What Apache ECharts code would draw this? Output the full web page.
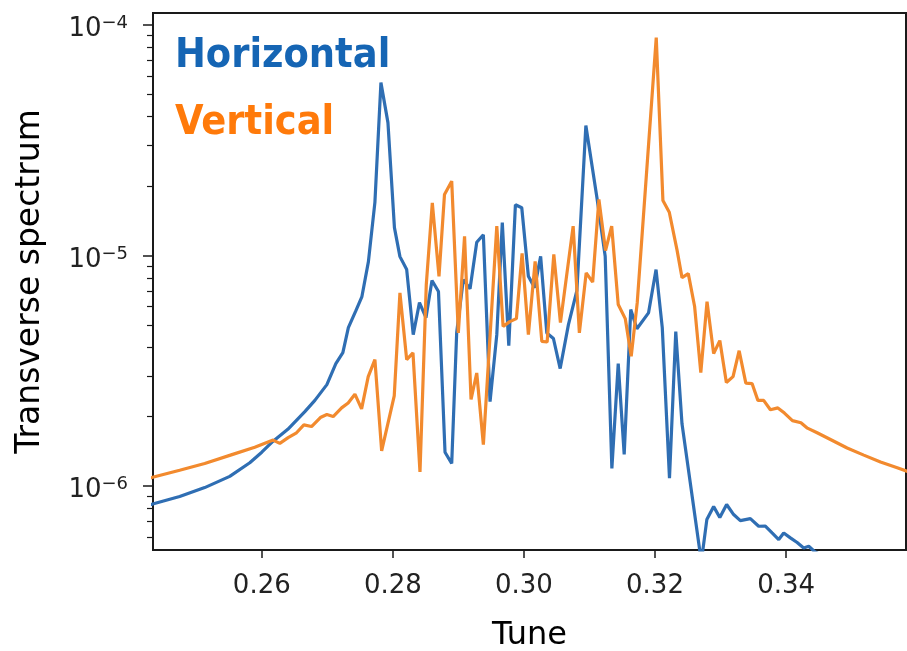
<!DOCTYPE html>
<html>
<head>
<meta charset="utf-8">
<script src="https://cdn.jsdelivr.net/npm/echarts@6/dist/echarts.min.js"></script>
<style>
html,body{margin:0;padding:0;background:#fff;overflow:hidden;}
#c{width:907px;height:651px;}
</style>
</head>
<body>
<div id="c"></div>
<script>
// Horizontal (blue) spectrum
const tuneH = [0.24213,0.24335,0.24747,0.25129,0.25511,0.25817,0.26000,0.26168,0.26397,0.26657,0.26810,0.26993,0.27130,0.27237,0.27321,0.27436,0.27528,0.27627,0.27726,0.27818,0.27925,0.28024,0.28108,0.28211,0.28311,0.28406,0.28505,0.28597,0.28696,0.28796,0.28898,0.28974,0.29075,0.29178,0.29280,0.29381,0.29483,0.29586,0.29670,0.29769,0.29870,0.29967,0.30068,0.30163,0.30255,0.30349,0.30450,0.30553,0.30679,0.30808,0.30945,0.31113,0.31240,0.31342,0.31439,0.31530,0.31630,0.31724,0.31901,0.32016,0.32111,0.32221,0.32317,0.32412,0.32707,0.32791,0.32895,0.32989,0.33093,0.33200,0.33302,0.33455,0.33582,0.33684,0.33787,0.33888,0.33964,0.34066,0.34169,0.34269,0.34346,0.34433,0.34601,0.34906,0.35288,0.35976];
const specH = [8.09e-7,8.35e-7,8.99e-7,9.83e-7,1.10e-6,1.26e-6,1.40e-6,1.56e-6,1.76e-6,2.10e-6,2.35e-6,2.75e-6,3.39e-6,3.79e-6,4.86e-6,5.76e-6,6.63e-6,9.40e-6,1.70e-5,5.62e-5,3.77e-5,1.32e-5,9.88e-6,8.68e-6,4.53e-6,6.24e-6,5.37e-6,7.78e-6,6.97e-6,1.40e-6,1.25e-6,4.63e-6,7.85e-6,7.17e-6,1.14e-5,1.23e-5,2.32e-6,4.53e-6,1.39e-5,4.06e-6,1.66e-5,1.61e-5,8.12e-6,7.25e-6,9.91e-6,4.61e-6,4.36e-6,3.23e-6,5.01e-6,7.04e-6,3.66e-5,1.79e-5,9.91e-6,1.19e-6,3.39e-6,1.37e-6,5.82e-6,4.81e-6,5.63e-6,8.68e-6,4.86e-6,1.08e-6,4.67e-6,1.86e-6,4.69e-7,7.14e-7,8.13e-7,7.29e-7,8.30e-7,7.51e-7,7.07e-7,7.21e-7,6.68e-7,6.69e-7,6.25e-7,5.85e-7,6.25e-7,5.95e-7,5.68e-7,5.38e-7,5.47e-7,5.19e-7,4.89e-7,4.51e-7,4.12e-7,3.55e-7];
// Vertical (orange) spectrum
const tuneV = [0.24213,0.24335,0.24747,0.25129,0.25557,0.25893,0.26173,0.26275,0.26402,0.26530,0.26642,0.26759,0.26894,0.26993,0.27089,0.27218,0.27318,0.27421,0.27523,0.27624,0.27726,0.27829,0.28021,0.28108,0.28211,0.28307,0.28414,0.28510,0.28602,0.28704,0.28788,0.28898,0.28999,0.29094,0.29193,0.29280,0.29381,0.29586,0.29682,0.29784,0.29885,0.29972,0.30068,0.30171,0.30273,0.30354,0.30456,0.30557,0.30751,0.30846,0.30950,0.31049,0.31144,0.31245,0.31339,0.31439,0.31546,0.31637,0.31729,0.32019,0.32121,0.32218,0.32335,0.32412,0.32508,0.32604,0.32699,0.32794,0.32895,0.32989,0.33089,0.33191,0.33284,0.33386,0.33481,0.33570,0.33658,0.33761,0.33875,0.33975,0.34097,0.34227,0.34326,0.34474,0.34677,0.34932,0.35186,0.35441,0.35696,0.35976];
const specV = [1.06e-6,1.09e-6,1.17e-6,1.25e-6,1.37e-6,1.47e-6,1.58e-6,1.53e-6,1.62e-6,1.70e-6,1.84e-6,1.81e-6,1.98e-6,2.04e-6,2.00e-6,2.18e-6,2.29e-6,2.50e-6,2.16e-6,2.98e-6,3.53e-6,1.42e-6,2.46e-6,6.88e-6,3.53e-6,3.78e-6,1.15e-6,7.47e-6,1.69e-5,8.12e-6,1.84e-5,2.10e-5,4.61e-6,1.21e-5,2.37e-6,3.09e-6,1.51e-6,1.34e-5,4.92e-6,5.16e-6,5.32e-6,1.02e-5,4.53e-6,9.43e-6,4.24e-6,4.21e-6,1.01e-5,5.11e-6,1.34e-5,4.61e-6,8.40e-6,7.66e-6,1.75e-5,1.05e-5,1.34e-5,6.12e-6,5.32e-6,3.65e-6,6.24e-6,8.81e-5,1.73e-5,1.54e-5,1.06e-5,8.01e-6,8.34e-6,6.02e-6,3.10e-6,6.30e-6,3.75e-6,4.27e-6,2.81e-6,2.98e-6,3.86e-6,2.79e-6,2.78e-6,2.35e-6,2.35e-6,2.14e-6,2.18e-6,2.07e-6,1.92e-6,1.88e-6,1.78e-6,1.70e-6,1.59e-6,1.46e-6,1.36e-6,1.27e-6,1.20e-6,1.12e-6];

const xTicks = [0.26, 0.28, 0.30, 0.32, 0.34];
const yMajorTicks = [1e-6, 1e-5, 1e-4];
const yMinorTicks = [6e-7,7e-7,8e-7,9e-7,2e-6,3e-6,4e-6,5e-6,6e-6,7e-6,8e-6,9e-6,2e-5,3e-5,4e-5,5e-5,6e-5,7e-5,8e-5,9e-5];
const seriesNames = ['Horizontal', 'Vertical'];
const X_MIN = 0.2434, X_MAX = 0.3583;
const Y_MIN = 5.27e-7, Y_MAX = 1.127e-4;

const FONT = '"DejaVu Sans", Verdana, sans-serif';
const AX = '#1a1a1a';
const BLUE = '#2f6eb3', ORANGE = '#f28a2e';

const chart = echarts.init(document.getElementById('c'), null, { width: 907, height: 651 });
const zip = (a, b) => a.map((t, i) => [t, b[i]]);

chart.setOption({
  animation: false,
  backgroundColor: '#fff',
  grid: { left: 153, right: 1, top: 13, bottom: 101, show: true, borderColor: AX, borderWidth: 2, containLabel: false, outerBoundsMode: 'none' },
  xAxis: {
    type: 'value', min: X_MIN, max: X_MAX,
    name: 'Tune', nameLocation: 'middle', nameGap: 70,
    nameTextStyle: { fontFamily: FONT, fontSize: 32, color: '#000' },
    axisLine: { show: false }, splitLine: { show: false },
    axisTick: { show: true, customValues: xTicks, length: 8, lineStyle: { color: AX, width: 1.5 } },
    axisLabel: { customValues: xTicks, formatter: v => v.toFixed(2), margin: 23, fontSize: 26, fontFamily: FONT, color: '#222' }
  },
  yAxis: [{
    type: 'log', logBase: 10, min: Y_MIN, max: Y_MAX,
    name: 'Transverse spectrum', nameLocation: 'middle', nameGap: 106, nameRotate: 90,
    nameTextStyle: { fontFamily: FONT, fontSize: 33, color: '#000' },
    axisLine: { show: false }, splitLine: { show: false },
    axisTick: { show: true, customValues: yMajorTicks, length: 10, lineStyle: { color: AX, width: 1.5 } },
    axisLabel: {
      customValues: yMajorTicks, margin: 25,
      formatter: v => '{a|10}{b|\u2212' + Math.abs(Math.round(Math.log10(v))) + '}',
      rich: {
        a: { fontFamily: FONT, fontSize: 26, lineHeight: 27, color: '#222', padding: [9, 0, 0, 0], verticalAlign: 'middle' },
        b: { fontFamily: FONT, fontSize: 18, lineHeight: 18, color: '#222', padding: [0, 0, 3, 0], verticalAlign: 'middle' }
      }
    }
  }, {
    type: 'log', logBase: 10, min: Y_MIN, max: Y_MAX, position: 'left', offset: 0,
    axisLine: { show: false }, splitLine: { show: false }, axisLabel: { show: false },
    axisTick: { show: true, customValues: yMinorTicks, length: 6, lineStyle: { color: AX, width: 1.2 } }
  }],
  graphic: [
    { type: 'text', left: 175, top: 36, style: { text: seriesNames[0], fill: '#1565b4', font: 'bold 41px "DejaVu Sans Condensed", "DejaVu Sans", sans-serif' } },
    { type: 'text', left: 175, top: 103, style: { text: seriesNames[1], fill: '#ff7a0a', font: 'bold 41px "DejaVu Sans Condensed", "DejaVu Sans", sans-serif' } }
  ],
  series: [
    { name: seriesNames[0], type: 'line', data: zip(tuneH, specH), showSymbol: false, clip: true, lineStyle: { color: BLUE, width: 3.2 }, z: 2 },
    { name: seriesNames[1], type: 'line', data: zip(tuneV, specV), showSymbol: false, clip: true, lineStyle: { color: ORANGE, width: 3.2 }, z: 3 }
  ]
});
</script>
</body>
</html>
